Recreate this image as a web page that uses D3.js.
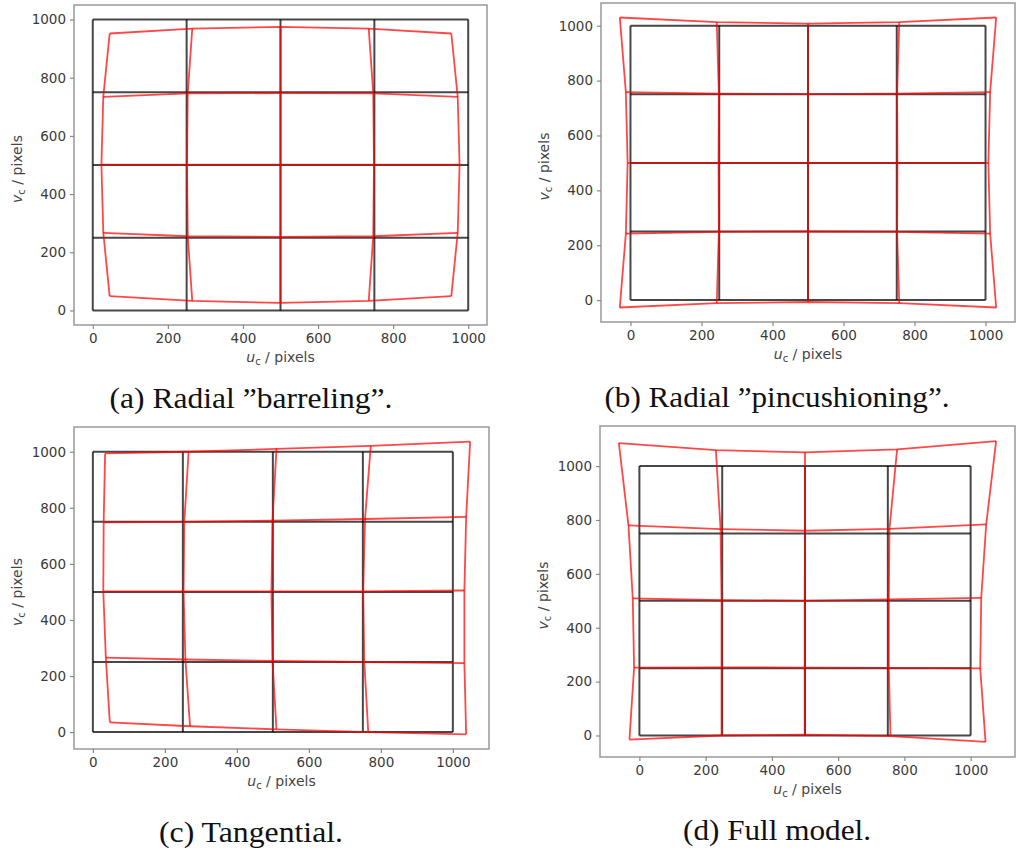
<!DOCTYPE html>
<meta charset="utf-8">
<style>
body { margin: 0; background: #fff; }
svg { display: block; }
.tick text { font-family: "DejaVu Sans", sans-serif; font-size: 13.5px; fill: #3a3a3a; }
.tick line { stroke: #888; stroke-width: 1.2px; }
.domain { display: none; }
.frame { fill: none; stroke: #999; stroke-width: 1.5px; }
.grid line { stroke: #000; stroke-opacity: 0.72; stroke-width: 2px; }
.warp path { fill: none; stroke: #ff0000; stroke-opacity: 0.72; stroke-width: 1.8px; stroke-linejoin: round; }
.label { font-family: "DejaVu Sans", sans-serif; font-size: 14px; fill: #444; }
.caption { font-family: "Liberation Serif", serif; font-size: 30px; fill: #111; }
</style>
<svg width="1016" height="852"></svg>
<script src="https://d3js.org/d3.v7.min.js"></script>
<script>

// undistorted grid (u and v, pixels)
var gridVals = [0, 250, 500, 750, 1000];
var tickVals = [0, 200, 400, 600, 800, 1000];

// distorted grid points, one row per v = 0, 250, 500, 750, 1000
var barrelU = [
  [45, 265, 500, 735, 955],
  [28, 253, 500, 747, 972],
  [23, 251, 500, 749, 977],
  [28, 253, 500, 747, 972],
  [45, 265, 500, 735, 955]
];
var barrelV = [
  [49, 33, 26, 33, 49],
  [267, 255, 253, 255, 267],
  [501, 501, 501, 501, 501],
  [734, 746, 747, 746, 734],
  [952, 969, 975, 969, 952]
];

var pinU = [
  [-30, 243, 500, 757, 1030],
  [-13, 249, 500, 751, 1013],
  [-8, 248, 500, 752, 1008],
  [-13, 249, 500, 751, 1013],
  [-30, 243, 500, 757, 1030]
];
var pinV = [
  [-27, -11, -7, -11, -27],
  [242, 249, 250, 249, 242],
  [500, 500, 500, 500, 500],
  [758, 752, 751, 752, 758],
  [1030, 1013, 1008, 1013, 1030]
];

var tangU = [
  [47, 270, 510, 765, 1037],
  [36, 257, 499, 754, 1032],
  [29, 252, 496, 751, 1032],
  [30, 254, 499, 756, 1037],
  [34, 266, 510, 772, 1048]
];
var tangV = [
  [35, 21, 10, 0, -8],
  [266, 259, 254, 250, 246],
  [502, 502, 502, 502, 505],
  [748, 750, 754, 760, 768],
  [994, 1000, 1010, 1021, 1036]
];

var fullU = [
  [-30, 248, 499, 758, 1045],
  [-16, 248, 499, 753, 1029],
  [-20, 248, 499, 753, 1032],
  [-33, 245, 500, 755, 1047],
  [-62, 231, 500, 778, 1077]
];
var fullV = [
  [-15, 0, 3, -2, -24],
  [252, 253, 252, 251, 249],
  [509, 502, 500, 505, 511],
  [780, 766, 760, 767, 784],
  [1085, 1059, 1051, 1062, 1093]
];

var captions = ["(a) Radial \u201dbarreling\u201d.", "(b) Radial \u201dpincushioning\u201d.",
                "(c) Tangential.", "(d) Full model."];

var panels = [
  {u: barrelU, v: barrelV, box: [74, 487, 5, 325], cap: [251, 408, 283]},
  {u: pinU, v: pinV, box: [601, 1015, 3, 322], cap: [777, 407, 345]},
  {u: tangU, v: tangV, box: [74, 489, 427, 749], cap: [251, 842, 184]},
  {u: fullU, v: fullV, box: [600, 1015, 426, 757], cap: [777, 840, 188]}
];

var svg = d3.select("svg");

function padded(vals) {
  var ext = d3.extent(vals.concat([0, 1000]));
  var m = (ext[1] - ext[0]) * 0.05;
  return [ext[0] - m, ext[1] + m];
}

panels.forEach(function(p, i) {
  var b = p.box;
  var x = d3.scaleLinear().domain(padded(d3.merge(p.u))).range([b[0], b[1]]);
  var y = d3.scaleLinear().domain(padded(d3.merge(p.v))).range([b[3], b[2]]);

  var g = svg.append("g");

  g.append("rect")
      .attr("class", "frame")
      .attr("x", b[0]).attr("y", b[2])
      .attr("width", b[1] - b[0]).attr("height", b[3] - b[2]);

  g.append("g")
      .attr("transform", "translate(0," + b[3] + ")")
      .call(d3.axisBottom(x).tickValues(tickVals).tickSize(4).tickPadding(4).tickFormat(d3.format("d")));

  g.append("g")
      .attr("transform", "translate(" + b[0] + ",0)")
      .call(d3.axisLeft(y).tickValues(tickVals).tickSize(4).tickPadding(4).tickFormat(d3.format("d")));

  // reference grid
  var grid = g.append("g").attr("class", "grid");
  grid.selectAll("line.h")
    .data(gridVals)
    .enter().append("line")
      .attr("x1", x(0)).attr("x2", x(1000))
      .attr("y1", function(d) { return y(d); })
      .attr("y2", function(d) { return y(d); });
  grid.selectAll("line.v")
    .data(gridVals)
    .enter().append("line")
      .attr("y1", y(0)).attr("y2", y(1000))
      .attr("x1", function(d) { return x(d); })
      .attr("x2", function(d) { return x(d); });

  // distorted grid: rows and columns
  var pts = p.u.map(function(row, r) {
    return row.map(function(uu, c) { return [uu, p.v[r][c]]; });
  });
  var cols = d3.range(5).map(function(c) {
    return pts.map(function(row) { return row[c]; });
  });
  var line = d3.line()
      .x(function(d) { return x(d[0]); })
      .y(function(d) { return y(d[1]); });

  g.append("g").attr("class", "warp")
    .selectAll("path")
    .data(pts.concat(cols))
    .enter().append("path")
      .attr("d", line);

  // axis labels
  var xl = g.append("text")
      .attr("class", "label")
      .attr("x", (b[0] + b[1]) / 2)
      .attr("y", b[3] + 37)
      .attr("text-anchor", "middle");
  xl.append("tspan").style("font-style", "italic").text("u");
  xl.append("tspan").attr("font-size", "10px").attr("dy", 3).text("c");
  xl.append("tspan").attr("dy", -3).text(" / pixels");

  var yl = g.append("text")
      .attr("class", "label")
      .attr("transform", "translate(" + (b[0] - 52) + "," + ((b[2] + b[3]) / 2 + 4) + ")rotate(-90)")
      .attr("text-anchor", "middle");
  yl.append("tspan").style("font-style", "italic").text("v");
  yl.append("tspan").attr("font-size", "10px").attr("dy", 3).text("c");
  yl.append("tspan").attr("dy", -3).text(" / pixels");

  g.append("text")
      .attr("class", "caption")
      .attr("x", p.cap[0])
      .attr("y", p.cap[1])
      .attr("text-anchor", "middle")
      .attr("textLength", p.cap[2])
      .attr("lengthAdjust", "spacingAndGlyphs")
      .text(captions[i]);
});

</script>
